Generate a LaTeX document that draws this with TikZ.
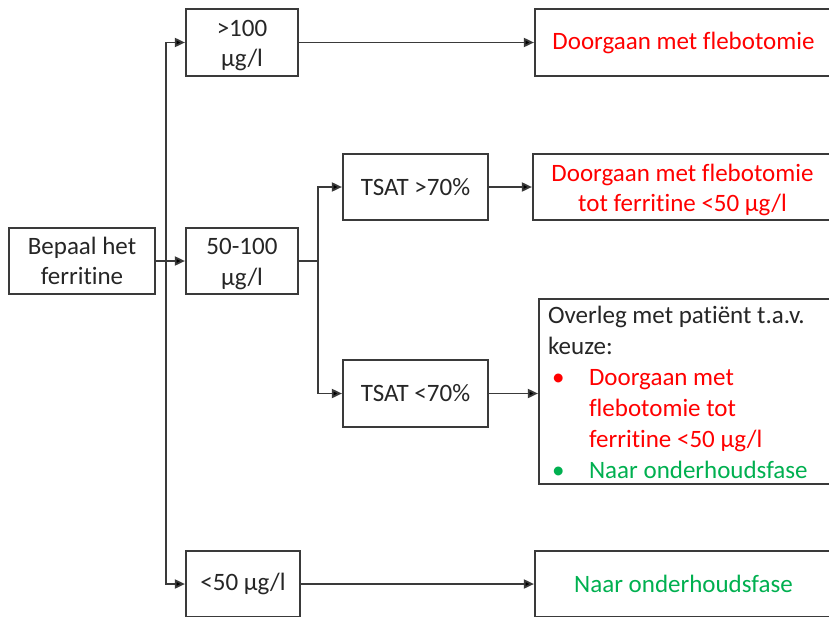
\documentclass[tikz,border=0pt]{standalone}
\usepackage{fontspec}
\setmainfont[Ligatures=NoCommon]{Carlito}
\usetikzlibrary{arrows.meta,calc}
\definecolor{boxline}{HTML}{3A3A3A}
\definecolor{myred}{HTML}{FF0000}
\definecolor{mygreen}{HTML}{00B050}
\newcommand{\lowr}[1]{\raisebox{-3pt}[\height][\depth]{#1}}
\begin{document}
\begin{tikzpicture}[x=1pt,y=-1pt,
  box/.style={draw=boxline,line width=2.2pt,fill=white,inner sep=0pt,align=center,
    font=\fontsize{25}{30.5}\selectfont,text=black!85},
  arr/.style={draw=boxline,line width=1.8pt,-{Triangle[length=10pt,width=9pt,fill=black]}},
  conn/.style={draw=boxline,line width=1.8pt}]
\useasboundingbox (0,0) rectangle (829,616);
\clip (0,0) rectangle (829,616);
% left column
\node[box,minimum width=146pt,minimum height=66pt] (bep) at (82,261) {Bepaal het\\ferritine};
\node[box,minimum width=112pt,minimum height=67pt] (g100) at (242,42.5) {\lowr{>100}\\\lowr{µg/l}};
\node[box,minimum width=112pt,minimum height=66pt] (m50) at (242,261) {\lowr{50-100}\\\lowr{µg/l}};
\node[box,minimum width=114pt,minimum height=66pt] (l50) at (243,584) {<50 µg/l};
% middle column
\node[box,minimum width=145pt,minimum height=66pt] (ta) at (415.5,187) {TSAT >70\%};
\node[box,minimum width=145pt,minimum height=67pt] (tb) at (415.5,393.5) {TSAT <70\%};
% right column
\node[box,minimum width=297pt,minimum height=67pt,text=myred] (r1) at (683.5,42.5) {Doorgaan met flebotomie};
\node[box,minimum width=299pt,minimum height=66pt,text=myred] (r2) at (682.5,187) {\lowr{Doorgaan met flebotomie}\\\lowr{tot ferritine <50 µg/l}};
\node[box,minimum width=293pt,minimum height=185pt] (big) at (685.5,391.5) {};
\node[box,draw=none,fill=none,minimum width=0pt,minimum height=0pt,anchor=north west,align=left,
  font=\fontsize{25}{31}\selectfont] (bigtext) at (547,305)
  {Overleg met patiënt t.a.v.\\keuze:\\
   \textcolor{myred}{\makebox[41pt][l]{\hspace*{4pt}•}Doorgaan met}\\
   \hspace*{41pt}\textcolor{myred}{flebotomie tot}\\
   \hspace*{41pt}\textcolor{myred}{ferritine <50 µg/l}\\
   \textcolor{mygreen}{\makebox[41pt][l]{\hspace*{4pt}•}Naar onderhoudsfase}};
\node[box,minimum width=297pt,minimum height=66pt,text=mygreen] (gr) at (683.5,584) {Naar onderhoudsfase};
% junctions
\coordinate (j1) at (166,261);
\coordinate (j2) at (318,261);
% connectors
\draw[arr] (bep.east) -- (m50.west);
\draw[arr] (j1) |- (g100.west);
\draw[arr] (j1) |- (l50.west);
\draw[conn] (m50.east) -- (j2);
\draw[arr] (j2) |- (ta.west);
\draw[arr] (j2) |- (tb.west);
\draw[arr] (g100.east) -- (r1.west);
\draw[arr] (ta.east) -- (r2.west);
\draw[arr] (tb.east) -- (tb.east -| big.west);
\draw[arr] (l50.east) -- (gr.west);
\end{tikzpicture}
\end{document}
